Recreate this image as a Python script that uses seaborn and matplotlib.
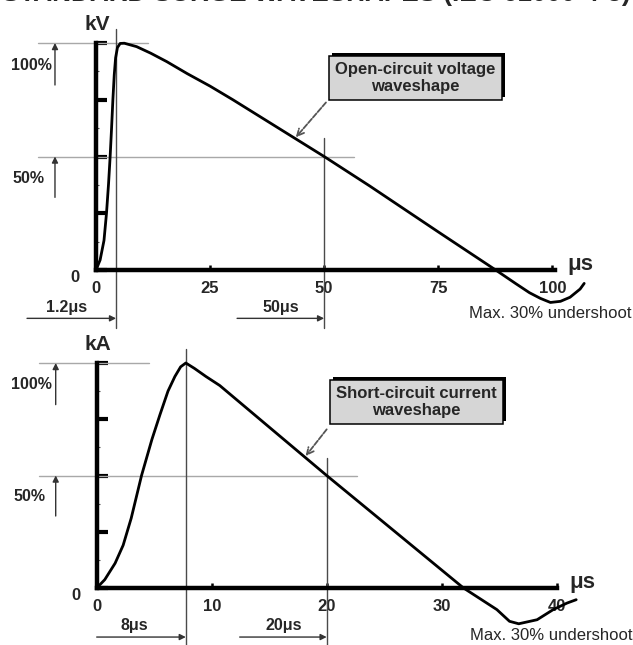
import numpy as np
import pandas as pd
import matplotlib
matplotlib.use("Agg")
import matplotlib.pyplot as plt
import matplotlib.patheffects as pe
import seaborn as sns

# ---------------- data ----------------
title = "STANDARD SURGE WAVESHAPES (IEC 61000-4-5)"

voltage_t = [0, 0.9, 1.75, 2.3, 2.75, 3.1, 3.4, 3.7, 4.0, 4.3, 4.7, 5.3, 6.2, 8.9, 12,
             15.5, 20, 25, 30, 40, 50, 60, 75, 87.6, 92, 95, 97.4, 99.6, 101.8, 103.9,
             106.1, 107]
voltage_pct = [0, 4.4, 13, 25, 38, 50, 62, 75, 86, 93.5, 98, 99.8, 99.9, 98.4, 95.5,
               91.8, 86.5, 81, 75, 62.5, 50, 37, 16.8, 0, -6, -10, -12.5, -14.3, -13.8,
               -12, -8.4, -5.9]

current_t = [0, 0.7, 1.6, 2.3, 3.0, 3.9, 4.8, 5.5, 6.2, 6.8, 7.3, 7.75, 8.5, 9.5, 10.7,
             15, 20, 25, 31.9, 34.8, 35.9, 36.7, 38.3, 39.7, 40.9, 41.7]
current_pct = [0, 3.7, 11, 19, 31, 50, 66, 77, 87.5, 94, 98.3, 100, 97.6, 94, 90,
               71.5, 50, 29, 0, -9.6, -14.8, -15.9, -14.1, -9.6, -6.7, -5.2]

v_xticks = [0, 25, 50, 75, 100]
c_xticks = [0, 10, 20, 30, 40]
pct_ticks = [0, 25, 50, 75, 100]
pct_minor = [12.5, 37.5, 62.5, 87.5]

v_front, v_half = 4.4, 50     # marked times on voltage wave
c_front, c_half = 7.75, 20    # marked times on current wave

# ---------------- style ----------------
sns.set_style("white")
plt.rcParams["font.family"] = ["Liberation Sans", "DejaVu Sans"]

fig = plt.figure(figsize=(6.33, 6.45), dpi=100)
fig.patch.set_facecolor("white")

ax_v = fig.add_axes([96 / 633, 1 - 270 / 645, 459 / 633, 227 / 645])
ax_c = fig.add_axes([96.7 / 633, 1 - 588 / 645, 460.3 / 633, 225 / 645])

df_v = pd.DataFrame({"t": voltage_t, "pct": voltage_pct})
df_c = pd.DataFrame({"t": current_t, "pct": current_pct})

sns.lineplot(data=df_v, x="t", y="pct", ax=ax_v, color="black", lw=2.0,
             sort=False, clip_on=False, zorder=5)
sns.lineplot(data=df_c, x="t", y="pct", ax=ax_c, color="black", lw=2.0,
             sort=False, clip_on=False, zorder=5)

GUIDE = "#a8a8a8"
VLINE = "#4a4a4a"
ARROW = "#555555"


def hv_arrow(ax, p0, p1):
    ax.annotate("", xy=p1, xytext=p0, xycoords="data",
                arrowprops=dict(arrowstyle="-|>", color="#333333", lw=1.0,
                                mutation_scale=9, shrinkA=0, shrinkB=0),
                annotation_clip=False)


def setup(ax, xmax, xticks, unit, px_per_unit, front, half, front_lbl, half_lbl,
          front_lbl_dx, box_txt, box_xy, box_corner, tip_x, t, pct, arrow_y, max_y):
    ax.set_xlim(0, xmax)
    ax.set_ylim(0, 100)
    for s in ["top", "right"]:
        ax.spines[s].set_visible(False)
    for s in ["left", "bottom"]:
        ax.spines[s].set_linewidth(3.2)
        ax.spines[s].set_color("black")
    ax.set_xlabel("")
    ax.set_ylabel("")
    ax.set_xticks(xticks)
    ax.set_xticklabels([str(v) for v in xticks], fontsize=12, fontweight="bold")
    ax.set_yticks(pct_ticks)
    ax.set_yticklabels(["0", "", "", "", ""], fontsize=12, fontweight="bold")
    ax.set_yticks(pct_minor, minor=True)
    ax.tick_params(axis="y", which="major", direction="in", length=8, width=3,
                   color="black", pad=12, left=True)
    ax.tick_params(axis="y", which="minor", direction="in", length=2.5, width=0.8,
                   color="#555555", left=True)
    ax.tick_params(axis="x", which="major", direction="in", length=3.5, width=1.8,
                   color="black", pad=8, bottom=True)
    for lbl in ax.get_yticklabels():
        lbl.set_va("top")

    sc = 1.0 / px_per_unit  # data units per pixel
    # percentage guides
    ax.plot([-58 * sc, 52 * sc], [100, 100], color=GUIDE, lw=1, clip_on=False, zorder=1)
    ax.plot([-58 * sc, half + 30 * sc], [50, 50], color=GUIDE, lw=1, clip_on=False, zorder=1)
    hv_arrow(ax, (-41 * sc, 81.5), (-41 * sc, 100))
    hv_arrow(ax, (-41 * sc, 32), (-41 * sc, 50))
    ax.text(-65 * sc, 90.3, "100%", ha="center", va="center", fontsize=11.5,
            fontweight="bold")
    ax.text(-67 * sc, 40.5, "50%", ha="center", va="center", fontsize=11.5,
            fontweight="bold")

    # time markers
    ax.plot([front, front], [106, -25.5], color=VLINE, lw=1, clip_on=False, zorder=2)
    ax.plot([half, half], [58, -25.5], color=VLINE, lw=1, clip_on=False, zorder=2)
    start = front - 89 * sc if front - 89 * sc < 0 else 0
    hv_arrow(ax, (start, arrow_y), (front, arrow_y))
    hv_arrow(ax, (half - 87 * sc, arrow_y), (half, arrow_y))
    ax.text(front - front_lbl_dx * sc, arrow_y + 5, front_lbl, ha="center",
            va="center", fontsize=11.5, fontweight="bold")
    ax.text(half - 43 * sc, arrow_y + 5, half_lbl, ha="center", va="center",
            fontsize=11.5, fontweight="bold")

    # units
    ax.text(1 * sc, 108, unit, ha="center", va="center", fontsize=15,
            fontweight="bold")
    ax.text(xmax + 25 * sc, 2.5, "\u03bcs", ha="center", va="center", fontsize=16,
            fontweight="bold")
    ax.text(xmax + 76 * sc, max_y, "Max. 30% undershoot", ha="right",
            va="center", fontsize=12)

    # callout box
    txt = ax.text(box_xy[0], box_xy[1], box_txt, ha="center", va="center",
                  fontsize=12, fontweight="bold", linespacing=1.12, zorder=6,
                  bbox=dict(boxstyle="square,pad=0.36", fc="#d6d6d6", ec="black",
                            lw=1.1))
    txt.get_bbox_patch().set_path_effects(
        [pe.SimplePatchShadow(offset=(2.2, 2.2), shadow_rgbFace="black", alpha=1.0),
         pe.Normal()])
    tip_y = float(np.interp(tip_x, t, pct))
    ax.annotate("", xy=(tip_x, tip_y), xytext=box_corner, xycoords="data",
                arrowprops=dict(arrowstyle="->", color=ARROW, lw=1.3,
                                linestyle=(0, (3, 1)), mutation_scale=12,
                                shrinkA=0, shrinkB=1),
                annotation_clip=False)


setup(ax_v, 100.6, v_xticks, "kV", 4.56, v_front, v_half, "1.2\u03bcs", "50\u03bcs",
      49, "Open-circuit voltage\nwaveshape", (70.0, 84.6), (50.4, 73.8), 43.6,
      voltage_t, voltage_pct, -21.3, -19.0)
setup(ax_c, 40.03, c_xticks, "kA", 11.5, c_front, c_half, "8\u03bcs", "20\u03bcs",
      52, "Short-circuit current\nwaveshape", (27.8, 82.7), (20.0, 70.5), 18.1,
      current_t, current_pct, -21.8, -21.3)

fig.text(0.5, 1 - 1 / 645, title, ha="center", va="baseline", fontsize=18.8,
         fontweight="bold")

fig.savefig("out.png", dpi=100, facecolor="white")
